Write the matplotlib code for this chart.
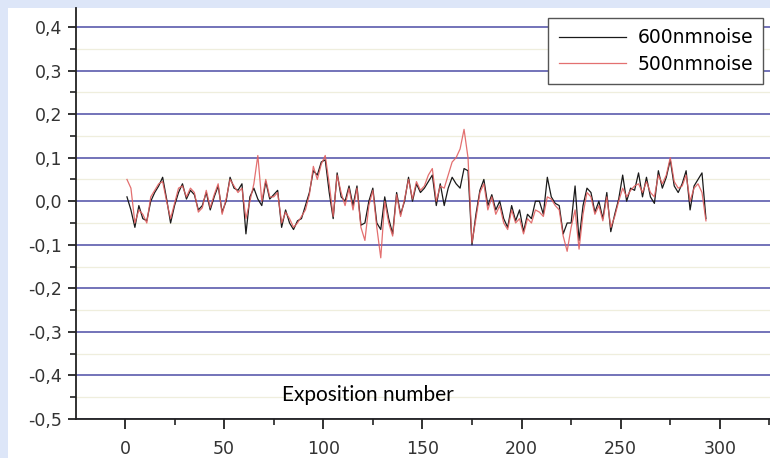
import matplotlib
matplotlib.use("Agg")
import matplotlib.pyplot as plt
from matplotlib.ticker import MultipleLocator, FuncFormatter
from matplotlib.patches import Rectangle

# -------------------------------
# Datos
# -------------------------------
exposicion = list(range(1, 294, 2))

ruido_600 = [
    0.01, -0.02, -0.06, -0.01, -0.04, -0.045, 0.0, 0.02, 0.035, 0.055,
    0.005, -0.05, -0.01, 0.02, 0.04, 0.005, 0.025, 0.015, -0.02, -0.01,
    0.02, -0.02, 0.01, 0.035, -0.025, 0.0, 0.055, 0.03, 0.025,
    0.04, -0.075, 0.01, 0.03, 0.005, -0.01, 0.045, 0.005, 0.015, 0.025,
    -0.06, -0.02, -0.05, -0.065, -0.045, -0.04, -0.01, 0.02, 0.07, 0.06,
    0.09, 0.095, 0.02, -0.04, 0.065, 0.01, 0.0, 0.035, -0.01, 0.035,
    -0.055, -0.05, 0.0, 0.03, -0.05, -0.065, 0.01, -0.04, -0.075, 0.02,
    -0.03, 0.0, 0.055, 0.0, 0.04, 0.02, 0.03, 0.045, 0.06,
    -0.01, 0.04, -0.01, 0.03, 0.055, 0.04, 0.03, 0.075, 0.07, -0.1,
    -0.03, 0.025, 0.05, -0.01, 0.015, -0.02, 0.0, -0.04, -0.06, -0.01,
    -0.045, -0.02, -0.07, -0.03, -0.04, 0.0, 0.0, -0.03, 0.055, 0.01,
    -0.005, -0.01, -0.075, -0.05, -0.05, 0.035, -0.09, -0.01, 0.03, 0.02,
    -0.025, 0.0, -0.04, 0.02, -0.07, -0.03, 0.005, 0.06, 0.0,
    0.03, 0.025, 0.065, 0.01, 0.055, 0.01, -0.005, 0.07, 0.03, 0.055,
    0.095, 0.035, 0.02, 0.04, 0.07, -0.02, 0.035, 0.05, 0.065, -0.04,
]

ruido_500 = [
    0.05, 0.03, -0.05, -0.02, -0.03, -0.05, 0.01, 0.025, 0.04, 0.045,
    0.0, -0.04, -0.005, 0.03, 0.035, 0.01, 0.03, 0.02, -0.025, -0.015,
    0.025, -0.015, 0.015, 0.04, -0.03, 0.005, 0.05, 0.035, 0.02,
    0.03, -0.04, 0.0, 0.04, 0.105, 0.0, 0.05, 0.01, 0.01, 0.02,
    -0.05, -0.025, -0.04, -0.06, -0.05, -0.035, -0.02, 0.015, 0.08, 0.05,
    0.085, 0.105, 0.04, -0.035, 0.06, 0.02, -0.01, 0.03, -0.02, 0.03,
    -0.06, -0.09, -0.01, 0.025, -0.06, -0.13, 0.0, -0.05, -0.08, 0.015,
    -0.035, 0.005, 0.05, 0.005, 0.045, 0.025, 0.035, 0.06, 0.075,
    0.0, 0.035, 0.03, 0.06, 0.09, 0.1, 0.12, 0.165, 0.1, -0.095,
    -0.04, 0.02, 0.04, -0.02, 0.01, -0.03, -0.01, -0.05, -0.065, -0.02,
    -0.05, -0.04, -0.075, -0.04, -0.05, -0.02, -0.025, -0.035, 0.01, 0.005,
    -0.01, -0.02, -0.08, -0.115, -0.06, -0.02, -0.11, -0.03, 0.02, 0.01,
    -0.03, -0.01, -0.045, 0.01, -0.06, -0.035, 0.0, 0.03, 0.01,
    0.025, 0.035, 0.04, 0.02, 0.045, 0.02, 0.01, 0.06, 0.04, 0.06,
    0.1, 0.045, 0.03, 0.035, 0.06, 0.0, 0.03, 0.04, 0.02, -0.045,
]

etiquetas = ["600nmnoise", "500nmnoise"]

# -------------------------------
# Figura
# -------------------------------
fig = plt.figure(figsize=(7.7, 4.58), dpi=100)
fig.patch.set_facecolor("#dde6f8")

# panel blanco detras del grafico
fondo = fig.add_axes([0, 0, 1, 1], zorder=-1)
fondo.set_axis_off()
fondo.add_patch(Rectangle((8 / 770, 0), 1, 450 / 458, transform=fig.transFigure,
                          facecolor="white", edgecolor="none"))

# titulo cortado arriba (solo se ven los trazos descendentes)
fig.text(0.397, 1 + 5.5 / 458, "Comparison of noisy", fontsize=22, fontweight="bold",
         ha="center", va="baseline", color="black")

ax = fig.add_axes([76 / 770, 39 / 458, 694 / 770, 411 / 458])
ax.set_facecolor("none")

ax.plot(exposicion, ruido_600, color="#1a1a1a", lw=0.9, label=etiquetas[0], zorder=3)
ax.plot(exposicion, ruido_500, color="#e06060", lw=0.9, alpha=0.9, label=etiquetas[1], zorder=4)

ax.set_xlim(-24.7, 325.3)
ax.set_ylim(-0.5, 0.4436)

ax.xaxis.set_major_locator(MultipleLocator(50))
ax.xaxis.set_minor_locator(MultipleLocator(25))
ax.yaxis.set_major_locator(MultipleLocator(0.1))
ax.yaxis.set_minor_locator(MultipleLocator(0.05))
ax.yaxis.set_major_formatter(FuncFormatter(lambda v, p: f"{v:.1f}".replace(".", ",").replace("-0,0", "0,0")))

ax.grid(axis="y", which="major", color="#7373b9", lw=1.4, zorder=1)
ax.grid(axis="y", which="minor", color="#efeedd", lw=0.9, zorder=1)

for lado in ["top", "right"]:
    ax.spines[lado].set_visible(False)
for lado in ["left", "bottom"]:
    ax.spines[lado].set_linewidth(1.3)
    ax.spines[lado].set_color("#222222")

ax.tick_params(axis="both", which="major", labelsize=12.5, labelcolor="#333333",
               color="#222222", width=1.3)
ax.tick_params(axis="x", which="major", length=7, pad=8)
ax.tick_params(axis="x", which="minor", length=4, width=1.2, color="#222222")
ax.tick_params(axis="y", which="major", length=6, pad=4)
ax.tick_params(axis="y", which="minor", length=4, width=1.2, color="#222222")
for t in ax.get_xticklabels() + ax.get_yticklabels():
    t.set_fontfamily("DejaVu Sans")

ax.text(0.421, 0.058, "Exposition number", transform=ax.transAxes, fontsize=15,
        family="Lato", ha="center", va="center", color="black")

ley = ax.legend(loc="upper right", bbox_to_anchor=(0.996, 0.985), frameon=True, fancybox=False,
                framealpha=1, edgecolor="#555555", handlelength=3.6, borderpad=0.55,
                labelspacing=0.4, handletextpad=0.6, borderaxespad=0.2,
                prop={"family": "DejaVu Sans", "size": 13.5})
ley.get_frame().set_linewidth(1.0)
ley.set_zorder(5)

fig.savefig("out.png", dpi=100)
